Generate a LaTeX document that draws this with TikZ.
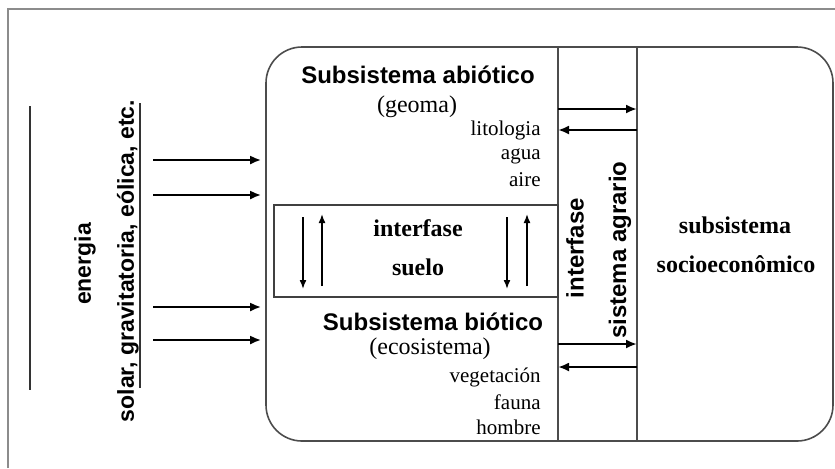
\documentclass[tikz,border=0pt]{standalone}
\usepackage{fontspec}
\setmainfont{Liberation Serif}
\setsansfont{Liberation Sans}
\usetikzlibrary{arrows.meta}
\begin{document}
\begin{tikzpicture}[x=0.5pt,y=-0.5pt,
    linea/.style={draw=black!70,line width=0.8pt},
    flecha/.style={line width=1.2pt,-{Latex[length=5.5pt,width=4.5pt]}},
    flechita/.style={line width=0.8pt,-{Latex[length=4.5pt,width=3.5pt]}},
    titulo/.style={font=\sffamily\bfseries\fontsize{12}{14}\selectfont,inner sep=0pt},
    rotulo/.style={font=\sffamily\bfseries\fontsize{11.5}{14}\selectfont,inner sep=0pt,rotate=90},
    negrita/.style={font=\bfseries\fontsize{12}{14}\selectfont,inner sep=0pt},
    normal/.style={font=\fontsize{12}{14}\selectfont,inner sep=0pt},
    lista/.style={font=\fontsize{10.5}{12}\selectfont,inner sep=0pt,anchor=east}]
  \useasboundingbox (0,0) rectangle (835,468);
  % marco exterior
  \draw[black!45,line width=0.9pt] (8,468) -- (8,9) -- (835,9);
  % caja principal
  \node[linea,rounded corners=18pt,minimum width=283.5pt,minimum height=197pt] (sistema) at (549.5,244) {};
  \coordinate (ia) at (558,0);
  \coordinate (ib) at (637,0);
  \draw[linea] (ia |- sistema.north) -- (ia |- sistema.south);
  \draw[linea] (ib |- sistema.north) -- (ib |- sistema.south);
  % interfase suelo
  \node[draw=black!75,line width=0.9pt,minimum width=142pt,minimum height=46pt] (suelo) at (416,251) {};
  \node[negrita] (inter) at (418,228) {interfase};
  \node[negrita] (suelotxt) at (418,267) {suelo};
  \foreach \x/\n in {303/a,507/b}{
    \coordinate (ba\n) at (\x,217);
    \coordinate (bb\n) at (\x,289);
    \draw[flechita] (ba\n) -- (bb\n);
  }
  \foreach \x/\n in {322/a,527/b}{
    \coordinate (sa\n) at (\x,286);
    \coordinate (sb\n) at (\x,214);
    \draw[flechita] (sa\n) -- (sb\n);
  }
  % subsistema abiotico
  \node[titulo] (abiotico) at (418,75) {Subsistema abiótico};
  \node[normal] (geoma) at (417,107) {(geoma)};
  \node[lista] (lito) at (541,130) {litologia};
  \node[lista] (agua) at (541,156) {agua};
  \node[lista] (aire) at (541,180) {aire};
  % subsistema biotico
  \node[titulo] (biotico) at (433,322) {Subsistema biótico};
  \node[normal] (eco) at (430,349) {(ecosistema)};
  \node[lista] (veget) at (541,377) {vegetación};
  \node[lista] (fauna) at (541,402) {fauna};
  \node[lista] (hombre) at (541,427) {hombre};
  % interfase sistema agrario
  \node[rotulo,font=\sffamily\bfseries\fontsize{12}{14}\selectfont] (interagr) at (575,248) {interfase};
  \node[rotulo,font=\sffamily\bfseries\fontsize{12}{14}\selectfont] (agrario) at (620,250) {sistema agrario};
  \foreach \y in {109,344}
    \draw[flecha] (ia |- 0,\y) -- (ib |- 0,\y);
  \foreach \y in {130,367}
    \draw[flecha] (ib |- 0,\y) -- (ia |- 0,\y);
  % socioeconomico
  \node[negrita] (socio1) at (735,225) {subsistema};
  \node[negrita] (socio2) at (736,264) {socioeconômico};
  % energia
  \node[rotulo] (energia) at (85,264) {energia};
  \node[rotulo] (fuentes) at (128,261) {solar, gravitatoria, eólica, etc.};
  \coordinate (r1) at (30,106);
  \coordinate (r2) at (30,390);
  \coordinate (s1) at (140,103);
  \coordinate (s2) at (140,388);
  \draw[black!80,line width=0.8pt] (r1) -- (r2);
  \draw[black!80,line width=0.8pt] (s1) -- (s2);
  \coordinate (fuente) at (153,0);
  \foreach \y in {160,195,307,340}
    \draw[flecha,shorten >=2pt] (fuente |- 0,\y) -- (sistema.west |- 0,\y);
\end{tikzpicture}
\end{document}
